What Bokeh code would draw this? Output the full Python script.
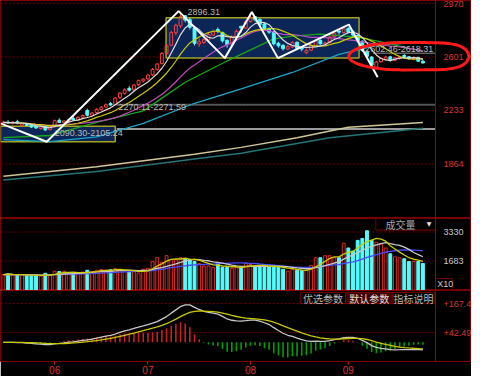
import numpy as np
import pandas as pd
from bokeh.plotting import figure
from bokeh.layouts import column
from bokeh.models import Range1d, FixedTicker, ColumnDataSource, Label, PolyAnnotation
from bokeh.core.properties import value
from bokeh.embed import file_html
from bokeh.resources import INLINE

# ---------------- data ----------------
opens = [2138, 2152, 2144, 2155, 2130, 2142, 2132, 2120, 2108, 2122,
         2100, 2120, 2165, 2148, 2158, 2178, 2168, 2186, 2232, 2200,
         2218, 2238, 2256, 2280, 2272, 2320, 2350, 2385, 2374, 2410,
         2436, 2450, 2478, 2515, 2555, 2625, 2682, 2768, 2815, 2885,
         2858, 2800, 2690, 2700, 2718, 2752, 2790, 2770, 2715, 2690,
         2740, 2812, 2800, 2845, 2878, 2860, 2828, 2795, 2775, 2695,
         2680, 2655, 2670, 2702, 2665, 2630, 2648, 2680, 2715, 2690,
         2700, 2740, 2780, 2770, 2798, 2775, 2750, 2710, 2640, 2600,
         2530, 2568, 2585, 2602, 2578, 2590, 2612, 2602, 2585, 2598,
         2572]
highs = [2160, 2165, 2158, 2168, 2150, 2148, 2140, 2128, 2125, 2126,
         2125, 2170, 2178, 2166, 2175, 2195, 2192, 2205, 2245, 2222,
         2248, 2262, 2280, 2290, 2325, 2360, 2385, 2400, 2415, 2445,
         2455, 2485, 2525, 2560, 2635, 2690, 2780, 2830, 2896.31, 2890,
         2870, 2815, 2730, 2735, 2770, 2790, 2805, 2775, 2722, 2750,
         2790, 2815, 2855, 2885, 2882, 2865, 2835, 2805, 2780, 2705,
         2690, 2685, 2710, 2708, 2672, 2660, 2690, 2720, 2722, 2705,
         2745, 2772, 2785, 2810, 2805, 2785, 2755, 2715, 2650, 2608,
         2575, 2600, 2610, 2608, 2600, 2610, 2620, 2608, 2605, 2602,
         2578]
lows = [2130, 2140, 2135, 2138, 2122, 2125, 2112, 2105, 2100, 2090.30,
        2095, 2115, 2145, 2140, 2150, 2160, 2162, 2178, 2190, 2195,
        2210, 2230, 2248, 2262, 2268, 2312, 2342, 2362, 2368, 2400,
        2425, 2440, 2470, 2505, 2548, 2615, 2675, 2750, 2800, 2840,
        2790, 2680, 2670, 2690, 2710, 2745, 2765, 2700, 2665, 2680,
        2735, 2770, 2795, 2838, 2845, 2815, 2780, 2760, 2680, 2665,
        2645, 2648, 2662, 2650, 2640, 2620, 2640, 2672, 2685, 2675,
        2695, 2735, 2755, 2762, 2765, 2740, 2700, 2635, 2595, 2530,
        2515, 2560, 2578, 2570, 2570, 2582, 2595, 2582, 2578, 2565,
        2555]
closes = [2150, 2146, 2152, 2142, 2140, 2130, 2118, 2112, 2120, 2098,
          2118, 2162, 2150, 2160, 2170, 2166, 2185, 2198, 2200, 2215,
          2240, 2255, 2272, 2270, 2318, 2352, 2374, 2372, 2408, 2438,
          2448, 2476, 2515, 2552, 2625, 2680, 2770, 2820, 2880, 2855,
          2805, 2695, 2705, 2720, 2755, 2775, 2778, 2712, 2686, 2738,
          2778, 2800, 2845, 2872, 2858, 2825, 2790, 2772, 2692, 2678,
          2658, 2672, 2700, 2660, 2655, 2645, 2680, 2712, 2692, 2698,
          2738, 2765, 2772, 2795, 2772, 2752, 2712, 2646, 2606, 2545,
          2565, 2590, 2600, 2580, 2595, 2602, 2600, 2590, 2598, 2572,
          2560]
volumes = [900, 950, 880, 900, 870, 860, 880, 850, 820, 980,
           860, 1100, 1080, 1100, 980, 1000, 950, 1050, 1150, 1080,
           1150, 1200, 1150, 1180, 1250, 1200, 1100, 1050, 1080, 1000,
           1210, 1260, 1650, 1870, 1600, 1980, 1760, 1760, 1870, 1810,
           1760, 1650, 1540, 1400, 1400, 1320, 1540, 1320, 1320, 1260,
           1320, 1320, 1540, 1480, 1400, 1400, 1320, 1370, 1400, 1320,
           1210, 1100, 1208, 1150, 1150, 1150, 1430, 1870, 1870, 1980,
           1980, 1870, 1870, 2690, 2420, 2250, 2855, 2965, 3400, 2855,
           2745, 2635, 2420, 2090, 1920, 1870, 1810, 1650, 1650, 1650, 1540]

month_ticks = [11, 31, 53, 74]
month_labels = ["06", "07", "08", "09"]
price_ticks = [1864, 2233, 2601, 2970]
vol_ticks = [1683, 3330]
macd_ticks = [42.49, 167.4]

# long moving averages (bar index, value)
ma_green_i = [0, 10, 20, 30, 33, 39, 48, 51, 58, 62, 68, 76, 81, 90]
ma_green_v = [2045, 2060, 2150, 2229, 2295, 2427, 2573, 2619, 2725, 2745, 2758, 2738, 2705, 2639]
ma_cyan_i = [0, 10, 20, 30, 41, 51, 62, 72, 80, 90]
ma_cyan_v = [2031, 2017, 2050, 2143, 2282, 2381, 2494, 2619, 2679, 2705]
ma_khaki_i = [0, 20, 41, 51, 63, 74, 90]
ma_khaki_v = [1779, 1845, 1931, 1978, 2044, 2117, 2150]
ma_teal_i = [0, 20, 41, 51, 70, 90]
ma_teal_v = [1753, 1812, 1898, 1938, 2044, 2110]

# hand-drawn annotations
zigzag_i = [-0.62, 9.3, 37.6, 47.5, 53.3, 58.9, 74.1, 80.3]
zigzag_v = [2143, 2017, 2917, 2593, 2910, 2593, 2824, 2461]
box_left = [-0.62, 34.9]
box_right = [24.0, 76.3]
box_bottom = [2017, 2593]
box_top = [2123, 2871]
level_values = [2271.59, 2105.24]
level_start = 24.3
level2_value = 2626
level2_start = 79.3
note_texts = ["2896.31", "2270.11-2271.59", "2090.30-2105.24", "2602.46-2618.31"]
note_x = [39.5, 24.7, 11.0, 77.6]
note_y = [2910, 2255, 2077, 2659]
ellipse_cx, ellipse_cy = 85.5, 2606
ellipse_a_left, ellipse_a_right, ellipse_b, ellipse_tip = 11.4, 14.3, 94.0, 100.3

buttons = ["优选参数", "默认参数", "指标说明"]
button_edges = [63.7, 73.4, 83.6, 92.4]

# ---------------- layout constants ----------------
X0, X1, XR = -0.62, 92.7, 100.42   # XR: right edge of canvas (axis label area)
FW = 471
RED_TXT = "#d83434"
GRID = "#6e0000"
EDGE = "#7c0000"

idx = np.arange(len(closes))
df = pd.DataFrame(dict(x=idx, o=opens, h=highs, l=lows, c=closes, v=volumes))
df["up"] = df["c"] >= df["o"]
df["btop"] = df[["o", "c"]].max(axis=1)
df["bbot"] = df[["o", "c"]].min(axis=1)
df["ma5"] = df["c"].rolling(5, min_periods=1).mean()
df["ma10"] = df["c"].rolling(10, min_periods=1).mean()
df["ma20"] = df["c"].rolling(20, min_periods=1).mean()
df["vma5"] = df["v"].rolling(5, min_periods=1).mean()
df["vma10"] = df["v"].rolling(10, min_periods=1).mean()
df["vma20"] = df["v"].rolling(20, min_periods=1).mean()
ema12 = df["c"].ewm(span=12, adjust=False).mean()
ema26 = df["c"].ewm(span=26, adjust=False).mean()
df["dif"] = ema12 - ema26
df["dea"] = df["dif"].ewm(span=9, adjust=False).mean()
df["macd"] = 2 * (df["dif"] - df["dea"])
df["zero"] = 0.0

up = ColumnDataSource(df[df["up"]])
dn = ColumnDataSource(df[~df["up"]])
src = ColumnDataSource(df)


def make(h, yr, ticks, label_color, xaxis=False):
    p = figure(frame_width=FW, frame_height=h, x_range=Range1d(X0, XR), y_range=yr,
               output_backend="svg", toolbar_location=None,
               x_axis_location="below" if xaxis else None, y_axis_location="right",
               min_border_left=0, min_border_right=0, min_border_top=0, min_border_bottom=0,
               background_fill_color="black", border_fill_color="black",
               outline_line_color=EDGE, outline_line_width=1)
    p.xgrid.visible = False
    p.ygrid.visible = False
    ax = p.yaxis[0]
    ax.fixed_location = X1
    ax.ticker = FixedTicker(ticks=ticks)
    ax.axis_line_color = "#a00000"
    ax.major_tick_line_color = None
    ax.minor_tick_line_color = None
    ax.major_label_text_font = "Liberation Sans"
    ax.major_label_text_font_size = "9px"
    ax.major_label_text_color = label_color
    ax.major_label_standoff = 2
    p.segment(x0=[X0] * len(ticks), y0=ticks, x1=[X1] * len(ticks), y1=ticks,
              line_color=GRID, line_dash="2 2", line_width=1)
    return p


# ---------------- price panel ----------------
p1 = make(218, Range1d(1488, 2990), price_ticks, RED_TXT)

p1.quad(left=box_left, right=box_right, bottom=box_bottom, top=box_top,
        fill_color="#0c2757", line_color="#a3a320", line_width=1.5)
for lv, col in zip(level_values, ["#555555", "#9a9a9a"]):
    p1.segment(x0=[level_start], y0=[lv], x1=[X1], y1=[lv], line_color=col, line_width=2)
p1.segment(x0=[level2_start], y0=[level2_value], x1=[X1], y1=[level2_value],
           line_color="#606060", line_width=1.5)

p1.line(ma_khaki_i, ma_khaki_v, line_color="#cfc695", line_width=1.5)
p1.line(ma_teal_i, ma_teal_v, line_color="#237575", line_width=1.5)
p1.line(ma_cyan_i, ma_cyan_v, line_color="#1aa6c8", line_width=1.3)
p1.line(ma_green_i, ma_green_v, line_color="#17a817", line_width=1.3)

# candles
p1.segment(x0="x", y0="h", x1="x", y1="btop", source=up, line_color="#ff3c3c", line_width=1)
p1.segment(x0="x", y0="bbot", x1="x", y1="l", source=up, line_color="#ff3c3c", line_width=1)
p1.vbar(x="x", width=0.62, top="btop", bottom="bbot", source=up,
        fill_color=None, line_color="#ff3c3c", line_width=1)
p1.segment(x0="x", y0="h", x1="x", y1="l", source=dn, line_color="#54fcfc", line_width=1)
p1.vbar(x="x", width=0.62, top="btop", bottom="bbot", source=dn,
        fill_color="#54fcfc", line_color="#54fcfc", line_width=1)

p1.line("x", "ma20", source=src, line_color="#c248c2", line_width=1.2)
p1.line("x", "ma10", source=src, line_color="#cccc00", line_width=1.2)
p1.line("x", "ma5", source=src, line_color="#dcdcdc", line_width=1.2)

p1.line(zigzag_i, zigzag_v, line_color="white", line_width=2)

for t, xx, yy in zip(note_texts, note_x, note_y):
    p1.add_layout(Label(x=xx, y=yy, text=t, text_color="#b8b8b8", text_font="Liberation Sans",
                        text_font_size="9px", text_baseline="middle", text_align="left"))

# hand-drawn red loop: round on the left, flatter with a small point on the right
th = np.linspace(0, 2 * np.pi, 145)
cth = np.cos(th)
ex = np.where(cth >= 0,
              ellipse_cx + ellipse_a_right * np.abs(cth) ** 0.35,
              ellipse_cx + ellipse_a_left * cth)
ey = ellipse_cy + ellipse_b * np.sin(th)
ex[0] = ellipse_tip
ex[-1] = ellipse_tip
p1.add_layout(PolyAnnotation(xs=list(ex), ys=list(ey), fill_color=None, fill_alpha=0,
                             line_color="#ff1a1a", line_alpha=1.0, line_width=3))

# ---------------- volume panel ----------------
p2 = make(72, Range1d(0, 4100), vol_ticks, "#c8c8c8")

p2.vbar(x="x", width=0.62, top="v", bottom=0, source=up,
        fill_color=None, line_color="#e02828", line_width=1)
p2.vbar(x="x", width=0.62, top="v", bottom=0, source=dn,
        fill_color="#54fcfc", line_color="#54fcfc", line_width=1)
p2.line("x", "vma20", source=src, line_color="#4a4aff", line_width=1.3)
p2.line("x", "vma10", source=src, line_color="#c8c8c8", line_width=1.3)
p2.line("x", "vma5", source=src, line_color="#cccc00", line_width=1.3)

p2.quad(left=[79.9], right=[X1], bottom=[3440], top=[4100],
        fill_color="black", line_color=EDGE, line_width=1)
p2.text(x=[85.2], y=[3770], text=["成交量"], text_color="#a8a8a8",
        text_font=value("Noto Sans CJK SC"), text_font_size="10px",
        text_align="center", text_baseline="middle")
p2.text(x=[91.3], y=[3790], text=["▼"], text_color="#e0e0e0",
        text_font=value("DejaVu Sans"), text_font_size="6px",
        text_align="center", text_baseline="middle")
p2.quad(left=[X1], right=[96.3], bottom=[40], top=[680],
        fill_color="black", line_color=EDGE, line_width=1)
p2.text(x=[X1 + 0.35], y=[360], text=["X10"], text_color="#c8c8c8",
        text_font=value("Liberation Sans"), text_font_size="9px",
        text_align="left", text_baseline="middle")

# ---------------- MACD panel ----------------
p3 = make(71, Range1d(-82.6, 224), macd_ticks, RED_TXT, xaxis=True)
p3.yaxis.major_label_overrides = {t: "+" + str(t) for t in macd_ticks}

pos = ColumnDataSource(df[df["macd"] >= 0])
neg = ColumnDataSource(df[df["macd"] < 0])
p3.segment(x0="x", y0="zero", x1="x", y1="macd", source=pos, line_color="#c82020", line_width=1.6)
p3.segment(x0="x", y0="zero", x1="x", y1="macd", source=neg, line_color="#00a000", line_width=1.6)
p3.line("x", "dif", source=src, line_color="#c8c8c8", line_width=1.3)
p3.line("x", "dea", source=src, line_color="#c8c800", line_width=1.3)

p3.quad(left=button_edges[:-1], right=button_edges[1:], bottom=[167.4] * 3, top=[215.8] * 3,
        fill_color=["black", "#3c0000", "black"], line_color=EDGE, line_width=1)
p3.text(x=[(a + b) / 2 for a, b in zip(button_edges[:-1], button_edges[1:])], y=[191.6] * 3,
        text=buttons, text_color=["#b8b8b8", "#e0e0e0", "#b8b8b8"],
        text_font=value("Noto Sans CJK SC"), text_font_size="10px",
        text_align="center", text_baseline="middle")

xa = p3.xaxis[0]
xa.ticker = FixedTicker(ticks=month_ticks)
xa.major_label_overrides = dict(zip(month_ticks, month_labels))
xa.major_label_text_color = RED_TXT
xa.major_label_text_font = "Liberation Sans"
xa.major_label_text_font_size = "10px"
xa.major_label_standoff = 1
xa.axis_line_color = None
xa.major_tick_line_color = "#b02020"
xa.major_tick_out = 3
xa.major_tick_in = 0
xa.minor_tick_line_color = None

layout = column(p1, p2, p3, spacing=0)
open("out.html", "w").write(file_html(layout, INLINE))
